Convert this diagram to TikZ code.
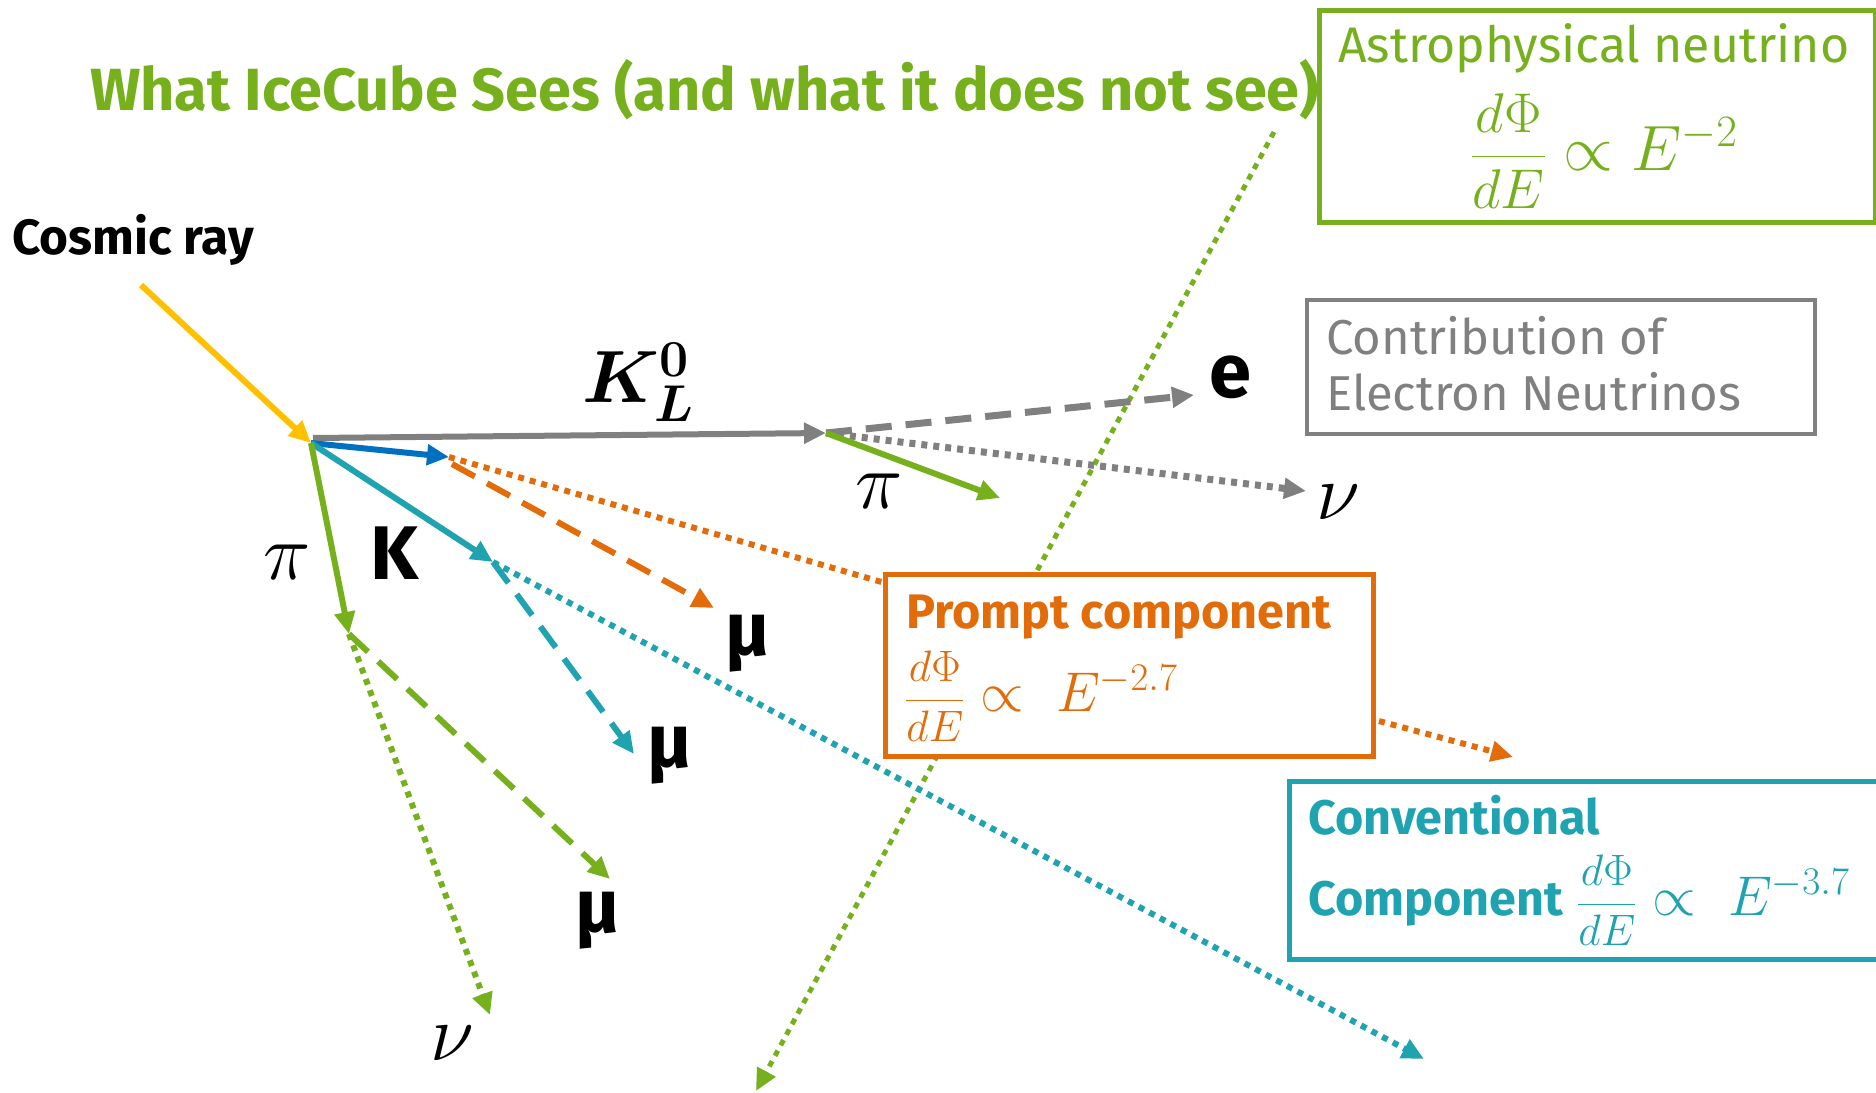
\RequirePackage{fix-cm}
\documentclass[tikz,border=0pt]{standalone}
\usepackage{amsmath}
\usepackage{bm}
\usepackage{fontspec}
\usetikzlibrary{arrows.meta}
\newfontfamily\plex{Fira Sans}
\newcommand{\fsz}[1]{\fontsize{#1}{#1}\selectfont}
\definecolor{cgreen}{RGB}{118,176,28}
\definecolor{corange}{RGB}{227,108,10}
\definecolor{cteal}{RGB}{31,163,176}
\definecolor{cblue}{RGB}{0,112,192}
\definecolor{cgray}{RGB}{128,128,128}
\definecolor{cyellow}{RGB}{255,192,0}
\tikzset{
  every node/.style={inner sep=0pt},
  arrtip/.style={-{Triangle[length=22pt,width=20pt]}},
  sol/.style={line width=6pt, arrtip},
  dsh/.style={line width=6pt, dash pattern=on 26pt off 14pt, arrtip},
  dot/.style={line width=6pt, dash pattern=on 6pt off 6pt, arrtip},
  box/.style={draw, line width=5pt, fill=white, anchor=north west},
  lab/.style={font=\plex\bfseries\fsz{76}},
  mlab/.style={font=\fsz{80}},
  boxtxt/.style={font=\plex\bfseries\fontsize{48.5}{50}\selectfont, anchor=base west},
  formula/.style={anchor=west},
}
\begin{document}
\begin{tikzpicture}[x=1pt,y=-1pt]
\useasboundingbox (0,0) rectangle (1876,1092);
% coordinates
\coordinate (cr0) at (141,285);
\coordinate (v) at (311,443);
\coordinate (vk) at (313,438);
\coordinate (kl) at (826,433);
\coordinate (bl) at (449,457);
\coordinate (bl2) at (452,464);
\coordinate (kt) at (493,562);
\coordinate (pt) at (349,634);
\coordinate (om) at (714,608);
\coordinate (tm) at (634,754);
\coordinate (td) at (1424,1059);
\coordinate (gm) at (610,879);
\coordinate (gn) at (490,1015);
\coordinate (a0) at (1274,132);
\coordinate (a1) at (756,1091);
\coordinate (ge) at (1194,395);
\coordinate (gv) at (1306,491);
\coordinate (kp) at (1000,498);
\coordinate (po) at (1379,721);
\coordinate (pc) at (1513,757);
\coordinate (pb) at (885,583);

% title and labels
\node[font=\plex\bfseries\fontsize{59.5}{60}\selectfont, text=cgreen, anchor=base west] (title) at (90,110) {What IceCube Sees (and what it does not see)};
\node[font=\plex\bfseries\fontsize{49.5}{50}\selectfont, anchor=base west] (cosmic) at (12,254) {Cosmic ray};

% astrophysical line
\draw[dot, line width=5pt, cgreen] (a0) -- (a1);

% primary arrows
\draw[sol, cyellow] (cr0) -- (v);
\draw[sol, cgray] (vk) -- (kl);
\draw[sol, cblue] (v) -- (bl);
\draw[sol, cteal] (v) -- (kt);
\draw[sol, cgreen] (v) -- (pt);

% secondaries
\draw[dot, corange, -] (bl) -- (pb);
\draw[dsh, corange] (bl2) -- (om);
\draw[dsh, cteal] (kt) -- (tm);
\draw[dot, cteal] (kt) -- (td);
\draw[dsh, cgreen] (pt) -- (gm);
\draw[dot, cgreen] (pt) -- (gn);
\draw[dsh, line width=7pt, cgray] (kl) -- (ge);
\draw[dot, line width=7pt, cgray] (kl) -- (gv);
\draw[sol, cgreen] (kl) -- (kp);
\draw[dot, corange] (po) -- (pc);

% particle labels
\node[font=\fsz{74}] (klab) at (638,382) {$\bm{K_L^0}$};
\node[lab] (klabk) at (395,553) {K};
\node[mlab] (pilab) at (287,562) {$\pi$};
\node[mlab] (pilab2) at (879,491) {$\pi$};
\node[lab] (mu1) at (748,644) {μ};
\node[lab] (mu2) at (670,756) {μ};
\node[lab] (mu3) at (598,921) {μ};
\node[mlab] (nu1) at (452,1043) {$\nu$};
\node[mlab] (nu2) at (1338,502) {$\nu$};
\node[lab] (elab) at (1230,377) {e};

% boxes
\node[box, draw=cgreen, minimum width=556, minimum height=212] (astro) at (1317,8) {};
\node[font=\plex\fsz{50}, text=cgreen, anchor=base west] (astrot) at (1338,62) {Astrophysical neutrino};
\node[formula, text=cgreen] (astrof) at (1471,151) {\fsz{56}$\dfrac{d\Phi}{dE}$\fsz{64}${}\propto E^{-2}$};

\node[box, draw=cgray, line width=4pt, minimum width=508, minimum height=134] (grayb) at (1305,298) {};
\node[font=\plex\fontsize{49}{56}\selectfont, text=cgray, anchor=north west, align=left] (grayt) at (1326,316) {Contribution of\\Electron Neutrinos};

\node[box, draw=corange, minimum width=488, minimum height=182] (prompt) at (883,572) {};
\node[boxtxt, text=corange] (promptt) at (906,628) {Prompt component};
\node[formula, text=corange] (promptf) at (905,696) {\fsz{44}$\dfrac{d\Phi}{dE}$\fsz{56}${}\propto\ E^{-2.7}$};

\node[box, draw=cteal, minimum width=598, minimum height=178] (conv) at (1287,779) {};
\node[boxtxt, text=cteal] (convt) at (1308,834) {Conventional};
\node[boxtxt, text=cteal] (convt2) at (1308,915) {Component};
\node[formula, text=cteal] (convf) at (1577,900) {\fsz{44}$\dfrac{d\Phi}{dE}$\fsz{56}${}\propto\ E^{-3.7}$};
\end{tikzpicture}
\end{document}
